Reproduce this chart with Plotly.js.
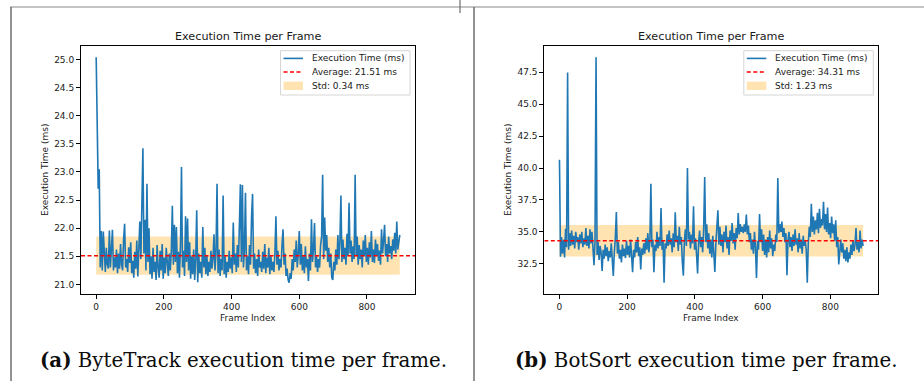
<!DOCTYPE html>
<html>
<head>
<meta charset="utf-8">
<script src="https://cdn.plot.ly/plotly-3.0.1.min.js"></script>
<style>
  html, body { margin: 0; padding: 0; background: #ffffff; }
  #chart { width: 924px; height: 381px; }
</style>
</head>
<body>
<div id="chart"></div>
<script>
// Per-frame execution time, sampled every 3 frames (frame index = i * frameStep)
const frameStep = 3;

const byteTrackMs = [
  25.04, 23.25, 22.70, 23.05, 21.30, 21.95, 21.25, 21.94, 21.40, 21.22,
  21.65, 21.35, 21.28, 21.96, 21.30, 21.60, 21.97, 21.25, 21.48, 21.30,
  21.62, 21.20, 21.55, 21.28, 21.72, 21.35, 21.25, 21.80, 22.08, 21.30,
  21.45, 21.22, 21.66, 21.38, 21.75, 21.20, 21.42, 21.12, 21.58, 21.28,
  21.78, 21.14, 21.60, 22.12, 21.45, 22.20, 23.42, 21.55, 22.15, 21.25,
  22.79, 21.40, 22.00, 21.18, 21.50, 21.10, 21.65, 21.22, 21.40, 21.08,
  21.70, 21.30, 21.12, 21.60, 21.25, 21.72, 21.10, 21.48, 21.20, 21.65,
  21.30, 21.15, 21.55, 21.25, 21.60, 22.40, 21.35, 22.06, 21.40, 22.02,
  21.20, 21.58, 21.12, 21.70, 23.09, 21.30, 21.60, 21.15, 22.21, 21.40,
  22.17, 21.25, 21.75, 21.10, 21.50, 21.18, 21.62, 21.08, 21.45, 22.32,
  21.04, 21.55, 21.20, 21.40, 21.12, 22.02, 21.30, 21.65, 21.18, 21.52,
  21.15, 21.40, 21.22, 21.60, 21.28, 21.45, 21.89, 21.25, 21.55, 22.79,
  21.20, 21.62, 21.15, 21.45, 21.25, 22.58, 21.18, 21.50, 21.12, 21.40,
  21.22, 21.60, 21.28, 21.48, 21.20, 22.10, 21.35, 21.55, 21.22, 21.70,
  21.30, 22.05, 22.78, 21.40, 22.77, 21.30, 21.62, 22.63, 21.25, 21.50,
  21.18, 21.70, 21.35, 22.20, 22.61, 21.28, 21.55, 21.20, 21.45, 21.15,
  21.62, 21.30, 21.40, 21.22, 21.58, 21.28, 21.72, 21.20, 21.48, 21.30,
  21.65, 21.18, 21.52, 21.25, 21.40, 21.22, 21.55, 22.21, 21.35, 21.60,
  21.25, 21.45, 21.30, 21.70, 21.98, 21.35, 21.55, 21.15, 21.28, 21.08,
  21.03, 21.20, 21.10, 21.45, 21.25, 21.62, 21.40, 21.78, 21.30, 21.55,
  21.95, 21.35, 21.72, 21.25, 21.50, 21.20, 21.68, 21.30, 21.45, 21.06,
  21.55, 21.25, 22.16, 21.40, 21.62, 22.09, 21.30, 21.52, 21.22, 21.45,
  21.30, 21.70, 21.85, 22.95, 21.45, 22.19, 21.60, 21.88, 21.40, 21.65,
  21.30, 21.55, 21.12, 21.08, 21.40, 21.25, 21.62, 21.35, 21.88, 21.45,
  21.75, 22.58, 21.40, 21.80, 21.45, 21.65, 21.35, 21.90, 21.50, 22.45,
  21.55, 21.78, 21.40, 21.68, 21.45, 22.95, 21.50, 21.85, 21.35, 21.70,
  21.45, 21.62, 21.30, 21.78, 21.50, 21.88, 21.40, 21.65, 21.35, 21.75,
  21.48, 21.95, 21.40, 21.62, 21.38, 21.80, 21.50, 21.72, 21.42, 21.60,
  21.35, 21.98, 21.55, 21.78, 22.06, 21.50, 21.72, 21.40, 21.85, 21.55,
  21.68, 21.45, 21.80, 21.60, 21.92, 21.55, 22.12, 21.62, 21.75, 21.88
];

const botSortMs = [
  40.65, 33.05, 34.60, 33.30, 34.40, 33.00, 35.25, 33.80, 47.47, 33.60,
  34.90, 33.90, 35.10, 34.00, 34.70, 33.70, 35.00, 34.20, 34.60, 33.60,
  34.80, 34.10, 35.00, 33.80, 34.50, 34.00, 35.30, 33.90, 34.70, 33.70,
  35.20, 34.10, 35.00, 33.50, 32.40, 34.30, 48.67, 33.20, 34.20, 32.80,
  33.90, 33.40, 31.95, 33.60, 32.90, 34.00, 33.10, 33.80, 32.70, 33.50,
  33.00, 34.10, 32.80, 31.55, 33.40, 34.50, 36.55, 33.30, 34.20, 32.90,
  33.60, 32.60, 34.00, 33.10, 33.70, 32.95, 34.30, 33.20, 33.90, 33.00,
  34.40, 33.30, 31.85, 33.60, 33.00, 34.20, 33.40, 34.60, 33.10, 33.80,
  32.05, 33.70, 33.20, 34.10, 33.30, 34.50, 33.60, 34.90, 33.40, 34.20,
  38.77, 33.80, 34.40, 31.85, 34.00, 33.50, 35.00, 33.70, 34.60, 33.90,
  36.87, 33.60, 34.30, 31.02, 34.10, 33.70, 34.80, 33.90, 35.10, 34.00,
  34.50, 33.40, 34.90, 33.80, 36.53, 34.20, 34.70, 33.50, 35.40, 34.00,
  34.60, 32.60, 31.58, 34.30, 35.20, 33.90, 40.00, 34.40, 35.00, 33.70,
  34.80, 34.10, 37.00, 33.60, 34.50, 33.20, 31.75, 34.20, 35.10, 33.80,
  34.60, 33.40, 35.30, 39.30, 34.20, 35.60, 33.70, 34.90, 33.30, 34.40,
  33.00, 34.70, 33.50, 31.87, 34.10, 35.20, 36.69, 34.00, 35.40, 33.90,
  34.80, 33.40, 35.00, 34.20, 35.50, 33.70, 34.60, 33.20, 35.10, 34.30,
  35.70, 34.10, 34.90, 33.60, 35.30, 34.50, 36.48, 34.80, 35.60, 35.00,
  35.40, 34.90, 35.60, 35.00, 36.36, 34.80, 35.50, 34.20, 34.90, 33.60,
  34.40, 33.30, 35.00, 33.80, 31.40, 34.30, 33.60, 36.40, 34.20, 35.20,
  33.50, 34.80, 33.20, 34.40, 33.00, 34.60, 33.40, 35.10, 33.70, 34.50,
  33.10, 34.00, 33.50, 34.80, 34.20, 39.22, 34.90, 35.60, 35.00, 35.80,
  34.60, 35.30, 34.20, 34.90, 31.60, 34.30, 35.00, 33.80, 34.60, 33.50,
  34.80, 33.90, 35.20, 34.00, 34.50, 33.40, 34.90, 33.70, 34.40, 33.30,
  34.70, 33.90, 34.30, 33.60, 31.02, 34.10, 35.40, 34.60, 37.20, 35.00,
  36.20, 34.80, 35.90, 35.20, 36.50, 34.90, 36.80, 35.30, 36.00, 35.50,
  37.35, 35.20, 36.40, 35.00, 36.90, 34.80, 35.70, 34.50, 36.20, 34.90,
  35.60, 34.30, 35.90, 33.80, 34.60, 32.45, 33.90, 34.40, 33.40, 34.10,
  32.90, 33.60, 32.70, 33.80, 32.60, 33.40, 32.90, 34.00, 33.20, 34.30,
  33.50, 34.00, 35.30, 33.60, 34.20, 33.40, 35.10, 33.70, 34.40, 33.90
];

// Summary statistics shown in the legends
const byteTrackAvg = 21.51;
const byteTrackStd = 0.34;
const botSortAvg = 34.31;
const botSortStd = 1.23;

// Tick labels
const frameTicks = [0, 200, 400, 600, 800];
const byteTrackTicks = [21.0, 21.5, 22.0, 22.5, 23.0, 23.5, 24.0, 24.5, 25.0];
const botSortTicks = [32.5, 35.0, 37.5, 40.0, 42.5, 45.0, 47.5];

// Text
const panelTitle = 'Execution Time per Frame';
const xLabel = 'Frame Index';
const yLabel = 'Execution Time (ms)';
const seriesName = 'Execution Time (ms)';
const captions = [
  '<b>(a)</b> ByteTrack execution time per frame.',
  '<b>(b)</b> BotSort execution time per frame.'
];

// ---- figure geometry (pixels in a 924 x 381 canvas) ----
const W = 924, H = 381;
const px = v => v / W;
const py = v => 1 - v / H;

const SANS = 'DejaVu Sans, Arial, sans-serif';
const INK = '#1a1a1a';
const BLUE = '#1f77b4';
const RED = '#ff0000';
const BAND = 'rgba(255,165,0,0.3)';
const AVG_DASH = '4px,2.5px';

const panels = [
  { ms: byteTrackMs, avg: byteTrackAvg, std: byteTrackStd, ticks: byteTrackTicks,
    left: 81, right: 415, xa: 'x', ya: 'y', xk: 'xaxis', yk: 'yaxis',
    ylabX: 45, caption: captions[0], capX: 243 },
  { ms: botSortMs, avg: botSortAvg, std: botSortStd, ticks: botSortTicks,
    left: 544.3, right: 878.3, xa: 'x2', ya: 'y2', xk: 'xaxis2', yk: 'yaxis2',
    ylabX: 508, caption: captions[1], capX: 705.5 }
];
const plotTop = 46, plotBottom = 294;

const traces = [];
const layout = {
  width: W, height: H,
  margin: { l: 0, r: 0, t: 0, b: 0 },
  paper_bgcolor: '#ffffff',
  plot_bgcolor: '#ffffff',
  font: { family: SANS, size: 9, color: INK },
  showlegend: false,
  annotations: [],
  shapes: []
};

panels.forEach(p => {
  const frames = p.ms.map((_, i) => i * frameStep);
  const f0 = frames[0], f1 = frames[frames.length - 1];
  const xPad = 0.05 * (f1 - f0);
  const xRange = [f0 - xPad, f1 + xPad];
  const yMin = Math.min(...p.ms), yMax = Math.max(...p.ms);
  const yPad = 0.05 * (yMax - yMin);
  const yRange = [yMin - yPad, yMax + yPad];

  const stdLabel = 'Std: ' + p.std.toFixed(2) + ' ms';
  const avgLabel = 'Average: ' + p.avg.toFixed(2) + ' ms';

  // ±1 std band under the series
  traces.push({
    type: 'scatter', mode: 'lines',
    x: [f0, f1, f1, f0, f0],
    y: [p.avg - p.std, p.avg - p.std, p.avg + p.std, p.avg + p.std, p.avg - p.std],
    fill: 'toself', fillcolor: BAND,
    line: { width: 0, color: BAND },
    name: stdLabel,
    xaxis: p.xa, yaxis: p.ya,
    hoverinfo: 'skip'
  });
  // per-frame execution time
  traces.push({
    type: 'scatter', mode: 'lines',
    x: frames, y: p.ms,
    line: { color: BLUE, width: 1.6 },
    name: seriesName,
    xaxis: p.xa, yaxis: p.ya
  });
  // average, across the full axis width
  traces.push({
    type: 'scatter', mode: 'lines',
    x: xRange, y: [p.avg, p.avg],
    line: { color: RED, width: 1.5, dash: AVG_DASH },
    name: avgLabel,
    xaxis: p.xa, yaxis: p.ya
  });

  const common = {
    showgrid: false, zeroline: false,
    showline: true, mirror: true, linecolor: '#000', linewidth: 1,
    ticks: 'outside', ticklen: 4, tickwidth: 1, tickcolor: '#000',
    tickfont: { family: SANS, size: 9, color: INK },
    fixedrange: true
  };
  layout[p.xk] = Object.assign({}, common, {
    domain: [px(p.left), px(p.right)],
    anchor: p.ya, range: xRange,
    tickmode: 'array', tickvals: frameTicks, ticktext: frameTicks.map(String)
  });
  layout[p.yk] = Object.assign({}, common, {
    domain: [py(plotBottom), py(plotTop)],
    anchor: p.xa, range: yRange,
    tickmode: 'array', tickvals: p.ticks, ticktext: p.ticks.map(t => t.toFixed(1))
  });

  // Legend box in the upper-right corner of each panel
  const boxR = p.right - 5, boxL = boxR - 129.5;
  const boxT = 50.7, boxB = 95;
  const rowY = [58.4, 72.1, 85.8];
  const sampL = boxL + 3, sampR = boxL + 22.5, textX = boxL + 29.6;
  layout.shapes.push(
    { type: 'rect', xref: 'paper', yref: 'paper',
      x0: px(boxL), x1: px(boxR), y0: py(boxB), y1: py(boxT),
      fillcolor: 'rgba(255,255,255,0.85)', line: { color: '#d6d6d6', width: 1 }, layer: 'above' },
    { type: 'line', xref: 'paper', yref: 'paper',
      x0: px(sampL), x1: px(sampR), y0: py(rowY[0]), y1: py(rowY[0]),
      line: { color: BLUE, width: 1.6 }, layer: 'above' },
    { type: 'line', xref: 'paper', yref: 'paper',
      x0: px(sampL), x1: px(sampR), y0: py(rowY[1]), y1: py(rowY[1]),
      line: { color: RED, width: 1.5, dash: AVG_DASH }, layer: 'above' },
    { type: 'rect', xref: 'paper', yref: 'paper',
      x0: px(sampL), x1: px(sampR), y0: py(rowY[2] + 4.2), y1: py(rowY[2] - 4.2),
      fillcolor: BAND, line: { width: 0 }, layer: 'above' }
  );
  [seriesName, avgLabel, stdLabel].forEach((t, k) => {
    layout.annotations.push({
      text: t, xref: 'paper', yref: 'paper', x: px(textX), y: py(rowY[k]),
      xanchor: 'left', yanchor: 'middle', showarrow: false,
      font: { family: SANS, size: 9, color: INK }
    });
  });

  const cx = (p.left + p.right) / 2;
  layout.annotations.push(
    { text: panelTitle, xref: 'paper', yref: 'paper', x: px(cx), y: py(36.7),
      xanchor: 'center', yanchor: 'middle', showarrow: false,
      font: { family: SANS, size: 11.2, color: INK } },
    { text: xLabel, xref: 'paper', yref: 'paper', x: px(cx), y: py(318),
      xanchor: 'center', yanchor: 'middle', showarrow: false,
      font: { family: SANS, size: 9, color: INK } },
    { text: yLabel, xref: 'paper', yref: 'paper', x: px(p.ylabX), y: py((plotTop + plotBottom) / 2),
      xanchor: 'center', yanchor: 'middle', textangle: -90, showarrow: false,
      font: { family: SANS, size: 9, color: INK } },
    { text: p.caption, xref: 'paper', yref: 'paper', x: px(p.capX), y: py(360),
      xanchor: 'center', yanchor: 'middle', showarrow: false,
      font: { family: 'DejaVu Serif, Liberation Serif, serif', size: 19.8, color: '#0d0d0d' } }
  );
});

// Page frame lines around the two sub-figures
const frameLine = { type: 'line', xref: 'paper', yref: 'paper', line: { color: '#8a8a8a', width: 1 } };
layout.shapes.push(
  Object.assign({}, frameLine, { x0: px(10), x1: px(924), y0: py(7), y1: py(7) }),
  Object.assign({}, frameLine, { x0: px(11), x1: px(11), y0: py(7), y1: py(381), line: { color: '#6e6e6e', width: 1.5 } }),
  Object.assign({}, frameLine, { x0: px(474), x1: px(474), y0: py(7), y1: py(381), line: { color: '#6e6e6e', width: 1.5 } }),
  Object.assign({}, frameLine, { x0: px(460), x1: px(460), y0: py(0), y1: py(13), line: { color: '#6e6e6e', width: 1.2 } })
);

Plotly.newPlot('chart', traces, layout, { displayModeBar: false, staticPlot: true });
</script>
</body>
</html>
